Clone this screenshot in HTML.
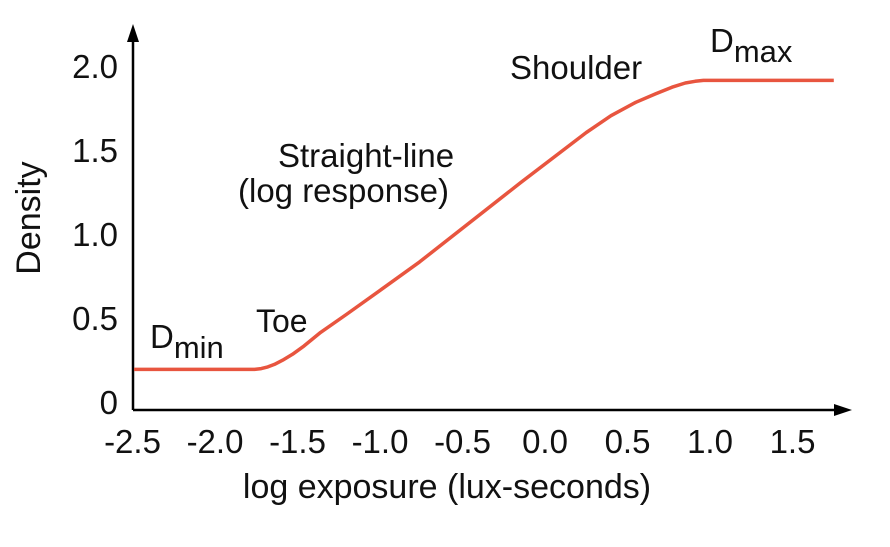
<!DOCTYPE html>
<html><head><meta charset="utf-8"><style>
body{margin:0;background:#fff}
svg text{font-family:"Liberation Sans",Arial,sans-serif;fill:#111}
</style></head><body>
<svg width="890" height="542" viewBox="0 0 890 542">
<g id="axes"></g><g id="ticks"></g>
<path id="curve" fill="none" stroke="#e8553f" stroke-width="3.5" stroke-linejoin="round"/>
<text x="40" y="218" font-size="34" text-anchor="middle" transform="rotate(-90 40 218)">Density</text>
<text x="447" y="498" font-size="34" text-anchor="middle">log exposure (lux-seconds)</text>
<text x="150" y="348" font-size="33">D<tspan dy="10" font-size="31">min</tspan></text>
<text x="256" y="332" font-size="32">Toe</text>
<text x="278" y="167" font-size="33">Straight-line</text>
<text x="238" y="202" font-size="33">(log response)</text>
<text x="510" y="79" font-size="33">Shoulder</text>
<text x="710" y="52" font-size="33">D<tspan dy="10" font-size="31">max</tspan></text>
</svg>
<script>
const xTicks=[-2.5,-2.0,-1.5,-1.0,-0.5,0.0,0.5,1.0,1.5];
const yTicks=[0,0.5,1.0,1.5,2.0];
const yTickLabels=["0","0.5","1.0","1.5","2.0"];
const exposure=[-2.49,-1.76,-1.72,-1.68,-1.64,-1.59,-1.53,-1.46,-1.36,-1.2,-1.0,-0.76,-0.15,0.25,0.4,0.55,0.67,0.77,0.85,0.91,0.96,1.75];
const density=[0.2,0.2,0.205,0.215,0.23,0.255,0.29,0.34,0.42,0.53,0.67,0.84,1.31,1.61,1.71,1.79,1.84,1.88,1.905,1.915,1.92,1.92];
const X=v=>545+165*v;
const Y=v=>403-168*v;
const NS="http://www.w3.org/2000/svg";
const axes=document.getElementById('axes');
function mk(tag,attrs,parent){const e=document.createElementNS(NS,tag);for(const k in attrs)e.setAttribute(k,attrs[k]);parent.appendChild(e);return e;}
let a=mk('path',{d:"M133 410 L133 30 M133 410 L840 410",stroke:"#000","stroke-width":"2.5",fill:"none"},axes);


let ay=mk('path',{d:"M127 42 L133 24 L139 42 Z",fill:"#000"},axes);


let ax=mk('path',{d:"M834 404 L852 410 L834 416 Z",fill:"#000"},axes);


const tk=document.getElementById('ticks');
xTicks.forEach(v=>{const t=mk('text',{x:X(v),y:453,"font-size":"33","text-anchor":"middle"},tk);t.textContent=v.toFixed(1);

});
yTicks.forEach((v,i)=>{const t=mk('text',{x:118,y:Y(v)+11,"font-size":"33","text-anchor":"end"},tk);t.textContent=yTickLabels[i];

});
let d="";exposure.forEach((e,i)=>{d+=(i?"L":"M")+X(e).toFixed(1)+" "+Y(density[i]).toFixed(1)+" ";});
document.getElementById('curve').setAttribute('d',d);
</script>
</body></html>
